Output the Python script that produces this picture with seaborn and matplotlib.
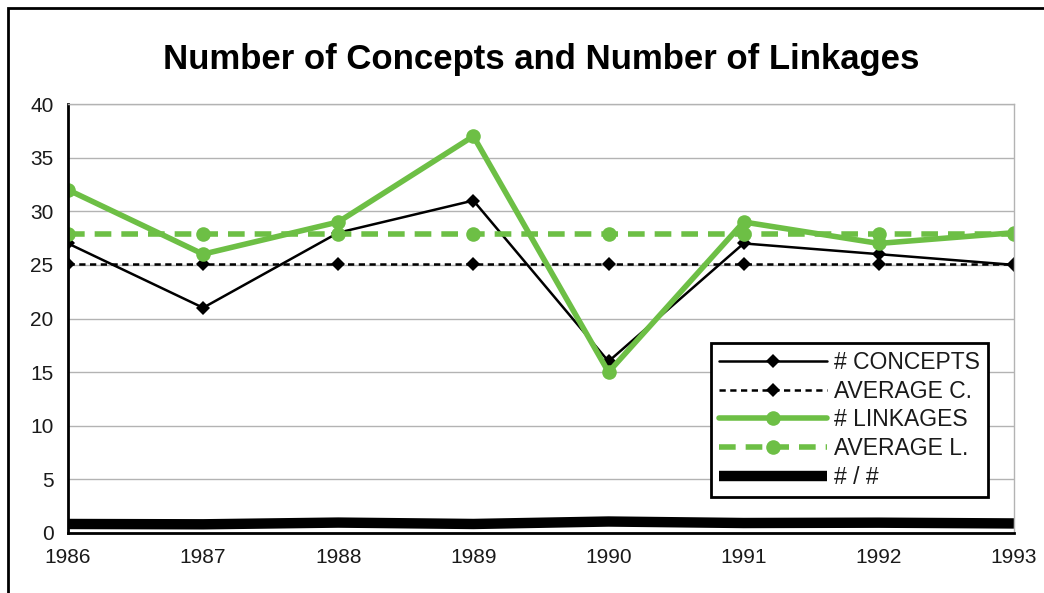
import seaborn as sns
import matplotlib.pyplot as plt
import matplotlib.patches as mpatches
import pandas as pd

years = [1986, 1987, 1988, 1989, 1990, 1991, 1992, 1993]
concepts = [27, 21, 28, 31, 16, 27, 26, 25]
avg_concepts = [25.1, 25.1, 25.1, 25.1, 25.1, 25.1, 25.1, 25.1]
linkages = [32, 26, 29, 37, 15, 29, 27, 28]
avg_linkages = [27.9, 27.9, 27.9, 27.9, 27.9, 27.9, 27.9, 27.9]
ratio = [0.84, 0.81, 0.97, 0.84, 1.07, 0.93, 0.96, 0.89]

green = '#6dbf45'

sns.set_style('white')
plt.rcParams['font.family'] = ['Liberation Sans', 'DejaVu Sans']

df = pd.DataFrame({'year': years, 'concepts': concepts, 'avg_c': avg_concepts,
                   'linkages': linkages, 'avg_l': avg_linkages, 'ratio': ratio})

fig = plt.figure(figsize=(10.44, 5.93), dpi=100)
ax = fig.add_axes([0.0651, 0.1012, 0.9061, 0.7234])

sns.lineplot(data=df, x='year', y='concepts', ax=ax, color='black', lw=1.8,
             marker='D', markersize=7, markeredgewidth=0, label='# CONCEPTS')
sns.lineplot(data=df, x='year', y='avg_c', ax=ax, color='black', lw=1.8,
             linestyle=(0, (2.5, 1.8)), marker='D', markersize=7, markeredgewidth=0,
             label='AVERAGE C.')
sns.lineplot(data=df, x='year', y='linkages', ax=ax, color=green, lw=4,
             marker='o', markersize=10.5, markeredgewidth=0, label='# LINKAGES')
sns.lineplot(data=df, x='year', y='avg_l', ax=ax, color=green, lw=4,
             linestyle=(0, (3, 1.8)), marker='o', markersize=10.5, markeredgewidth=0,
             label='AVERAGE L.')
sns.lineplot(data=df, x='year', y='ratio', ax=ax, color='black', lw=7.5,
             solid_capstyle='butt', label='# / #')

ax.set_xlim(1986, 1993)
ax.set_ylim(0, 40)
ax.set_xticks(years)
ax.set_yticks(range(0, 41, 5))
ax.set_xlabel('')
ax.set_ylabel('')
ax.yaxis.grid(True, color='#b3b3b3', lw=1)
ax.set_axisbelow(True)
for s in ['top', 'right']:
    ax.spines[s].set_color('#b3b3b3')
    ax.spines[s].set_linewidth(1)
for s in ['left', 'bottom']:
    ax.spines[s].set_color('black')
    ax.spines[s].set_linewidth(2)
ax.tick_params(axis='both', direction='out', length=7, width=2, color='black',
               labelsize=15, labelcolor='#1a1a1a')

ax.set_title('Number of Concepts and Number of Linkages', fontsize=25,
             fontweight='bold', color='black', pad=25)

leg = ax.legend(loc='lower right', bbox_to_anchor=(0.9725, 0.084), borderaxespad=0,
                fontsize=16.5, handlelength=4.7, handletextpad=0.3, labelspacing=0.25,
                fancybox=False, framealpha=1, edgecolor='black', borderpad=0.35)
leg.get_frame().set_linewidth(2)
for t in leg.get_texts():
    t.set_color('#1a1a1a')

border = mpatches.Rectangle((8 / 1044, -0.1), 1.2, 1 - 8 / 593 + 0.1,
                            transform=fig.transFigure, fill=False,
                            edgecolor='black', lw=2, clip_on=False)
fig.patches.append(border)

plt.savefig('out.png', dpi=100)
plt.close()
